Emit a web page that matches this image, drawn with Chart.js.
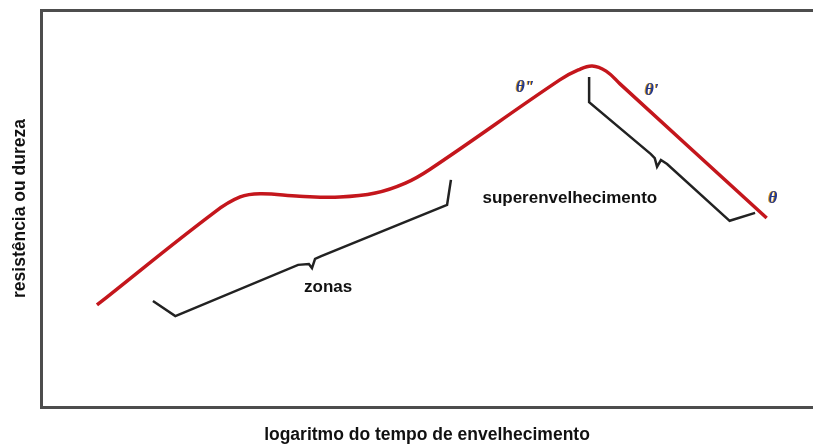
<!DOCTYPE html>
<html>
<head>
<meta charset="utf-8">
<script src="https://cdn.jsdelivr.net/npm/chart.js@4.4.0/dist/chart.umd.min.js"></script>
<style>
  html, body { margin: 0; padding: 0; background: #fff; }
  #wrap { width: 813px; height: 446px; }
</style>
</head>
<body>
<div id="wrap"><canvas id="myChart" width="813" height="446"></canvas></div>
<script>
// aging curve: log time (x) vs strength / hardness (y), arbitrary units 0-100
var curveX = [7.25, 22.5, 25.8, 28.4, 33.5, 38.7, 43.3, 47.2, 50.4, 67.2, 69.6, 71.4, 73.2, 75.0, 94.0];
var curveY = [25.7, 49.1, 52.9, 53.7, 53.1, 52.9, 53.9, 56.4, 59.9, 82.4, 84.9, 85.9, 84.6, 81.4, 47.6];

// brace under the zone-formation stage
var zonesBraceX = [14.5, 17.4, 33.3, 34.7, 35.1, 35.5, 36.3, 52.6, 53.1];
var zonesBraceY = [26.7, 22.9, 35.8, 36.0, 35.0, 37.3, 38.0, 50.9, 57.2];

// brace under the overaging stage
var overBraceX = [71.0, 71.0, 79.0, 79.5, 79.8, 80.3, 81.1, 89.2, 92.5];
var overBraceY = [83.1, 76.8, 63.7, 62.7, 60.5, 62.2, 61.2, 46.9, 48.9];

var xTitle = 'logaritmo do tempo de envelhecimento';
var yTitle = 'resistência ou dureza';

var notes = [
  { text: 'zonas', x: 37.2, y: 30.2, kind: 'label' },
  { text: 'superenvelhecimento', x: 68.5, y: 52.6, kind: 'label' },
  { text: 'θ"', x: 62.7, y: 80.4, kind: 'phase' },
  { text: "θ'", x: 79.1, y: 79.6, kind: 'phase' },
  { text: 'θ', x: 94.8, y: 52.4, kind: 'phase' }
];

function toPoints(xs, ys) {
  return xs.map(function (x, i) { return { x: x, y: ys[i] }; });
}

var textPlugin = {
  id: 'notes',
  afterDatasetsDraw: function (chart) {
    var c = chart.ctx;
    var sx = chart.scales.x, sy = chart.scales.y;
    c.save();
    c.textAlign = 'center';
    c.textBaseline = 'middle';
    notes.forEach(function (n) {
      var px = sx.getPixelForValue(n.x);
      var py = sy.getPixelForValue(n.y);
      if (n.kind === 'label') {
        c.font = 'bold 17px "Liberation Sans", Arial, sans-serif';
        c.fillStyle = '#111';
        c.fillText(n.text, px, py);
      } else {
        c.font = 'italic bold 17px "Liberation Serif", "Times New Roman", serif';
        c.fillStyle = '#e8a020';
        c.fillText(n.text, px - 1, py);
        c.fillStyle = '#233a8c';
        c.fillText(n.text, px, py);
      }
    });
    c.restore();
  }
};

var frame = { display: true, width: 3, color: '#4d4d4d' };
var titleFont = { family: '"Liberation Sans", Arial, sans-serif', size: 17.5, weight: 'bold' };

var ctx = document.getElementById('myChart').getContext('2d');
var myChart = new Chart(ctx, {
  type: 'line',
  data: {
    datasets: [
      {
        data: toPoints(curveX, curveY),
        borderColor: '#c4161c',
        borderWidth: 3.5,
        pointRadius: 0,
        tension: 0.4
      },
      {
        data: toPoints(zonesBraceX, zonesBraceY),
        borderColor: '#222',
        borderWidth: 2.5,
        pointRadius: 0,
        tension: 0
      },
      {
        data: toPoints(overBraceX, overBraceY),
        borderColor: '#222',
        borderWidth: 2.5,
        pointRadius: 0,
        tension: 0
      }
    ]
  },
  options: {
    responsive: false,
    animation: false,
    layout: { padding: { top: 10, right: 0, left: 0, bottom: 0 } },
    plugins: {
      legend: { display: false },
      tooltip: { enabled: false }
    },
    scales: {
      x: {
        type: 'linear',
        position: 'bottom',
        min: 0,
        max: 100,
        ticks: { display: false },
        grid: { display: false },
        border: frame,
        title: {
          display: true,
          text: xTitle,
          color: '#111',
          font: titleFont,
          padding: { top: 0, bottom: 0 }
        },
        afterFit: function (s) { s.height = 39; }
      },
      top: {
        type: 'linear',
        position: 'top',
        min: 0,
        max: 100,
        ticks: { display: false },
        grid: { display: false },
        border: frame,
        afterFit: function (s) { s.height = 0; }
      },
      y: {
        type: 'linear',
        min: 0,
        max: 100,
        ticks: { display: false },
        grid: { display: false },
        border: frame,
        title: {
          display: true,
          text: yTitle,
          color: '#111',
          font: titleFont,
          padding: { top: 10, bottom: 0 }
        },
        afterFit: function (s) { s.width = 41; }
      }
    }
  },
  plugins: [textPlugin]
});
</script>
</body>
</html>
